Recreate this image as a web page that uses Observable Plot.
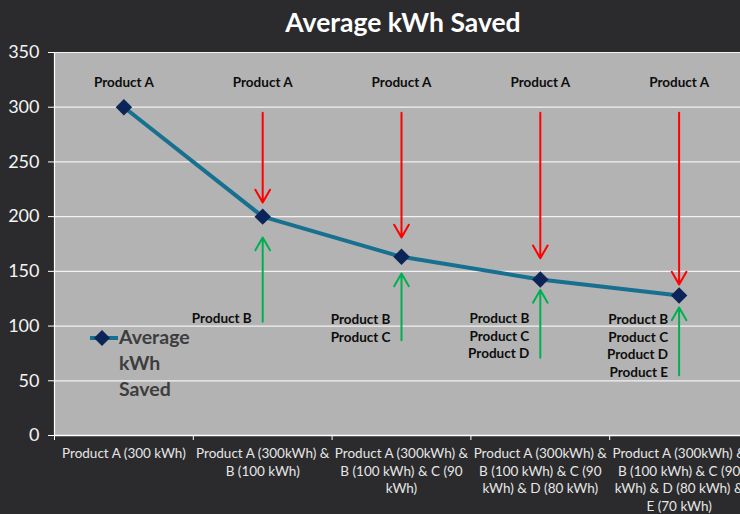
<!DOCTYPE html>
<html>
<head>
<meta charset="utf-8">
<script src="https://cdn.jsdelivr.net/npm/d3@7"></script>
<script src="https://cdn.jsdelivr.net/npm/@observablehq/plot@0.6"></script>
<style>
  html, body { margin: 0; padding: 0; overflow: hidden; background: #2b2b2d; }
  body { width: 740px; height: 514px; position: relative; font-family: Lato, "Noto Sans", sans-serif; }
  #title { height: 40px; line-height: 44px; width: 740px; box-sizing: border-box; padding-left: 66px;
    text-align: center; color: #ffffff; font-weight: bold; font-size: 26.5px; }
  #legend { position: absolute; left: 88px; top: 324px; display: flex; align-items: flex-start; }
  #legend .txt { color: #3d3d3d; font-weight: bold; font-size: 19.5px; line-height: 26px; }
  #legend svg { margin-top: 4px; }
</style>
</head>
<body>
<div id="title">Average kWh Saved</div>
<div id="chart"></div>
<div id="legend">
  <svg width="31" height="20"><line x1="2" y1="10" x2="30" y2="10" stroke="#17708f" stroke-width="4"/><path d="M14,2 L22,10 L14,18 L6,10 Z" fill="#0b2559"/></svg>
  <div class="txt">Average<br>kWh<br>Saved</div>
</div>
<script>
// Categories (x-axis tick labels)
const categories = [
  "Product A (300 kWh)",
  "Product A (300kWh) &\nB (100 kWh)",
  "Product A (300kWh) &\nB (100 kWh) & C (90\nkWh)",
  "Product A (300kWh) &\nB (100 kWh) & C (90\nkWh) & D (80 kWh)",
  "Product A (300kWh) &\nB (100 kWh) & C (90\nkWh) & D (80 kWh) &\nE (70 kWh)"
];
// Series: Average kWh Saved
const avgSaved = [300, 200, 163.3, 142.5, 128];
const yTicks = [0, 50, 100, 150, 200, 250, 300, 350];

// Annotations
const topLabels = ["Product A", "Product A", "Product A", "Product A", "Product A"];
const topLabelY = [322, 322, 322, 322, 322];
const arrowIdx = [1, 2, 3, 4];
const redFrom = [295, 295, 295, 295];
const redTo = [213, 181, 162, 138];
const greenFrom = [104, 87, 71, 55];
const greenTo = [181, 148, 133, 117];
const addedLabels = [
  "Product B",
  "Product B\nProduct C",
  "Product B\nProduct C\nProduct D",
  "Product B\nProduct C\nProduct D\nProduct E"
];
const addedLabelY = [107.9, 98.7, 91.9, 82.7];

const idx = categories.map((_, i) => i);
const series = idx.map(i => ({i, v: avgSaved[i]}));
const tops = idx.map(i => ({i, y: topLabelY[i], t: topLabels[i]}));
const reds = arrowIdx.map((i, k) => ({i, y1: redFrom[k], y2: redTo[k]}));
const greens = arrowIdx.map((i, k) => ({i, y1: greenFrom[k], y2: greenTo[k]}));
const added = arrowIdx.map((i, k) => ({i, y: addedLabelY[k], t: addedLabels[k]}));
const bounds = d3.range(categories.length + 1).map(k => k - 0.5);

const chart = Plot.plot({
  width: 740,
  height: 474,
  marginTop: 12,
  marginBottom: 79,
  marginLeft: 54,
  marginRight: 0,
  style: {background: "transparent", color: "#ffffff", fontFamily: "Lato, 'Noto Sans', sans-serif", fontSize: "12px"},
  x: {type: "linear", domain: [-0.5, categories.length - 0.5], range: [54, 748]},
  y: {domain: [0, 350]},
  marks: [
    Plot.frame({fill: "#b3b3b3", stroke: null}),
    Plot.gridY(yTicks, {stroke: "#f2f2f2", strokeOpacity: 1, strokeWidth: 1.2}),
    Plot.ruleX([-0.5], {stroke: "#ffffff", strokeWidth: 1.2}),
    Plot.ruleY([0], {stroke: "#ffffff", strokeWidth: 1.5}),
    Plot.axisY({ticks: yTicks, tickSize: 6, tickPadding: 9, fontSize: 18, fill: "#f4f4f4", stroke: "#ffffff", label: null}),
    Plot.axisX({ticks: bounds, tickSize: 5, tickFormat: () => "", stroke: "#ffffff", label: null}),
    Plot.axisX({ticks: idx, tickSize: 0, tickPadding: 10, tickFormat: i => categories[i], fontSize: 13.5, lineHeight: 1.3, fill: "#e6e6e6", label: null}),
    Plot.line(series, {x: "i", y: "v", stroke: "#17708f", strokeWidth: 4}),
    Plot.dot(series, {x: "i", y: "v", symbol: "diamond2", r: 7.4, fill: "#0b2559", stroke: null}),
    Plot.arrow(reds, {x: "i", y1: "y1", y2: "y2", stroke: "#ff0000", strokeWidth: 2, headLength: 11, headAngle: 60}),
    Plot.arrow(greens, {x: "i", y1: "y1", y2: "y2", stroke: "#00b050", strokeWidth: 2, headLength: 11, headAngle: 60}),
    Plot.text(tops, {x: "i", y: "y", text: "t", fill: "#0d0d0d", fontWeight: "bold", fontSize: 13.5}),
    Plot.text(added, {x: "i", y: "y", text: "t", fill: "#0d0d0d", fontWeight: "bold", fontSize: 13.5, textAnchor: "end", dx: -11, lineHeight: 1.3})
  ]
});
document.getElementById("chart").appendChild(chart);
</script>
</body>
</html>
